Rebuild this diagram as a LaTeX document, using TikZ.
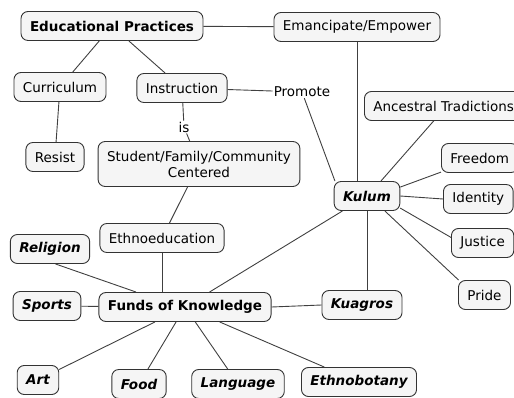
\documentclass[tikz,border=0pt]{standalone}
\usepackage{fontspec}
\setmainfont{DejaVu Sans}
\tikzset{
	concept/.style={draw=black!80, line width=0.9pt, rounded corners=7pt, fill=black!4, inner xsep=9pt, minimum height=29pt, font=\fontsize{13.5}{16}\selectfont},
	mainconcept/.style={concept, font=\fontsize{13.5}{16}\selectfont\bfseries},
	fund/.style={concept, font=\fontsize{13.5}{16}\selectfont\bfseries\itshape},
	linkword/.style={inner sep=1pt, font=\fontsize{13.5}{16}\selectfont},
	link/.style={draw=black!75, line width=0.9pt}
}
\begin{document}
\begin{tikzpicture}[x=1pt, y=-1pt]
					\useasboundingbox (0,0) rectangle (514,398);
					
					\node[mainconcept] (edu) at (112,26) {Educational Practices};
					\node[concept] (emp) at (357,27) {Emancipate/Empower};
					\node[concept] (curr) at (60,87) {Curriculum};
					\node[concept] (instr) at (182,88) {Instruction};
					\node[concept] (resist) at (55,157) {Resist};
					\node[concept, align=center, minimum height=45pt] (sfc) at (199,164) {Student/Family/Community\\Centered};
					\node[linkword] (promote) at (302,92) {Promote};
					\node[linkword] (is) at (184,127) {is};
					\node[concept, anchor=west] (anc) at (364,106) {Ancestral Tradictions};
					\node[fund] (kulum) at (367,196) {Kulum};
					\node[concept, anchor=west] (freedom) at (441,158) {Freedom};
					\node[concept, anchor=west] (identity) at (443,199) {Identity};
					\node[concept, anchor=west] (justice) at (451,243) {Justice};
					\node[concept, anchor=west] (pride) at (458,295) {Pride};
					\node[concept] (ethnoed) at (162,238) {Ethnoeducation};
					\node[mainconcept] (funds) at (185,307) {Funds of Knowledge};
					\node[fund] (kuagros) at (362,305) {Kuagros};
					\node[fund] (religion) at (50,249) {Religion};
					\node[fund] (sports) at (47,306) {Sports};
					\node[fund] (art) at (38,380) {Art};
					\node[fund] (food) at (139,384) {Food};
					\node[fund] (language) at (238,384) {Language};
					\node[fund] (ethnob) at (359,382) {Ethnobotany};
					
					\draw[link] (edu) -- (emp);
					\draw[link] (edu) -- (curr);
					\draw[link] (edu) -- (instr);
					\draw[link] (curr) -- (resist);
					\draw[link] (instr) -- (is) -- (sfc);
					\draw[link] (instr) -- (promote);
					\draw[link] (promote) -- (kulum.155);
					\draw[link] (emp.south) -- (emp.south |- kulum.north);
					\draw[link] (sfc) -- (ethnoed);
					\draw[link] (ethnoed.south) -- (ethnoed.south |- funds.north);
					
					\draw[link] (kulum.47) -- ([xshift=-10pt]anc.south);
					\draw[link] (kulum.15) -- (freedom.200);
					\draw[link] (kulum.east) -- (identity.west);
					\draw[link] (kulum.-20) -- (justice.170);
					\draw[link] (kulum.-40) -- (pride.150);
					\draw[link] (kulum.south) -- (kulum.south |- kuagros.north);
					\draw[link] (funds) -- (kulum);
					\draw[link] (funds.east) -- (kuagros.west);
					
					\draw[link] (religion.290) -- (funds.163);
					\draw[link] (sports) -- (funds);
					\draw[link] (art) -- (funds);
					\draw[link] (food) -- (funds);
					\draw[link] (language) -- (funds);
					\draw[link] (ethnob) -- (funds);
					
				\end{tikzpicture}
\end{document}
